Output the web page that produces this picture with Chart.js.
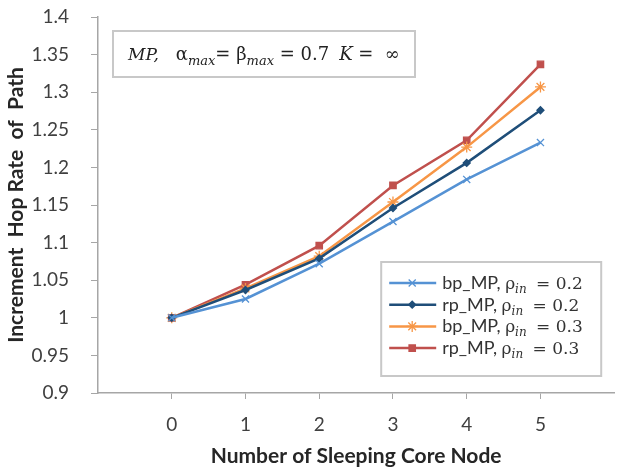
<!DOCTYPE html>
<html>
<head>
<meta charset="utf-8">
<script src="https://cdn.jsdelivr.net/npm/chart.js@4.4.1/dist/chart.umd.min.js"></script>
<style>
    html, body { margin: 0; padding: 0; background: #fff; }
</style>
</head>
<body>
<canvas id="hopChart" width="621" height="473"></canvas>
<script>
// values
const sleepingNodes = [0, 1, 2, 3, 4, 5];
const bpMP02 = [1.0, 1.025, 1.072, 1.128, 1.184, 1.233];
const rpMP02 = [1.0, 1.037, 1.079, 1.146, 1.206, 1.276];
const bpMP03 = [1.0, 1.039, 1.082, 1.154, 1.227, 1.307];
const rpMP03 = [1.0, 1.044, 1.096, 1.176, 1.236, 1.337];
const seriesLabels = ['bp_MP, ρin = 0.2', 'rp_MP, ρin = 0.2', 'bp_MP, ρin = 0.3', 'rp_MP, ρin = 0.3'];
const yTicks = [0.9, 0.95, 1, 1.05, 1.1, 1.15, 1.2, 1.25, 1.3, 1.35, 1.4];

const tickFont = { family: 'Lato, "Open Sans", sans-serif', size: 19 };
const titleFont = { family: 'Lato, "Open Sans", sans-serif', size: 21, weight: 'bold' };

function toPoints(values) {
    return sleepingNodes.map(function (n, i) { return { x: n, y: values[i] }; });
}

function makeSet(label, values, color, style, radius) {
    return {
        label: label,
        data: toPoints(values),
        borderColor: color,
        backgroundColor: color,
        borderWidth: 2.5,
        pointStyle: style,
        pointRadius: radius,
        pointBorderWidth: 1.3,
        pointBorderColor: color,
        pointBackgroundColor: color,
        tension: 0,
    };
}

// draws the parameter box and the legend with subscripts
const boxesPlugin = {
    id: 'boxes',
    afterDraw: function (chart) {
        const ctx = chart.ctx;
        const area = chart.chartArea;
        ctx.save();

        // parameter box
        let bx = area.left + 15, by = area.top + 14;
        ctx.fillStyle = '#fff';
        ctx.strokeStyle = '#c8c8c8';
        ctx.lineWidth = 2;
        ctx.fillRect(bx, by, 302, 46);
        ctx.strokeRect(bx, by, 302, 46);
        ctx.fillStyle = '#222';
        ctx.textBaseline = 'alphabetic';
        let tx = bx + 15, ty = by + 29;
        const parts = [
            ['MP,', 'italic 17px "DejaVu Serif"', 0, 17],
            ['α', '18px "DejaVu Serif"', 0, 0],
            ['max', 'italic 13px "DejaVu Serif"', 5, 0],
            ['= β', '18px "DejaVu Serif"', 0, 0],
            ['max', 'italic 13px "DejaVu Serif"', 5, 0],
            [' = 0.7', '18px "DejaVu Serif"', 0, 10],
            ['K', 'italic 18px "DejaVu Serif"', 0, 0],
            [' =  ∞', '18px "DejaVu Serif"', 0, 0],
        ];
        parts.forEach(function (p) {
            ctx.font = p[1];
            ctx.fillText(p[0], tx, ty + p[2]);
            tx += ctx.measureText(p[0]).width + p[3];
        });

        // legend
        const lx = area.right - 233, ly = 262;
        ctx.fillStyle = '#fff';
        ctx.fillRect(lx, ly, 220, 114);
        ctx.strokeStyle = '#c8c8c8';
        ctx.strokeRect(lx, ly, 220, 114);
        chart.data.datasets.forEach(function (ds, i) {
            const y = ly + 21 + i * 21.7;
            ctx.strokeStyle = ds.borderColor;
            ctx.fillStyle = ds.borderColor;
            ctx.lineWidth = 2.5;
            ctx.beginPath();
            ctx.moveTo(lx + 8, y);
            ctx.lineTo(lx + 55, y);
            ctx.stroke();
            ctx.lineWidth = 1.3;
            Chart.helpers.drawPoint(ctx, {
                pointStyle: ds.pointStyle,
                radius: ds.pointRadius,
                borderWidth: 1.3,
                rotation: 0
            }, lx + 31, y);

            const m = ds.label.match(/^(.*)ρin( = .*)$/);
            let x = lx + 61;
            ctx.fillStyle = '#333';
            ctx.font = '18px Lato, "Open Sans", sans-serif';
            ctx.fillText(m[1], x, y + 6);
            x += ctx.measureText(m[1]).width;
            ctx.font = '17px "DejaVu Serif"';
            ctx.fillText('ρ', x, y + 6);
            x += ctx.measureText('ρ').width;
            ctx.font = 'italic 12px "DejaVu Serif"';
            ctx.fillText('in', x, y + 10);
            x += ctx.measureText('in').width + 4;
            ctx.font = '17px "DejaVu Serif"';
            ctx.fillText(m[2], x, y + 6);
        });
        ctx.restore();
    }
};

const ctx = document.getElementById('hopChart');
new Chart(ctx, {
    type: 'line',
    data: {
        datasets: [
            makeSet(seriesLabels[0], bpMP02, '#5592d4', 'crossRot', 5),
            makeSet(seriesLabels[1], rpMP02, '#1f4e79', 'rectRot', 3.5),
            makeSet(seriesLabels[2], bpMP03, '#f79646', 'star', 5.5),
            makeSet(seriesLabels[3], rpMP03, '#c0504d', 'rect', 4.5),
        ]
    },
    plugins: [boxesPlugin],
    options: {
        responsive: false,
        animation: false,
        layout: { padding: { top: 17, right: 3, left: 0, bottom: 0 } },
        plugins: {
            legend: { display: false },
            tooltip: { enabled: false },
        },
        scales: {
            x: {
                type: 'linear',
                min: -1,
                max: 6,
                afterBuildTicks: function (scale) {
                    scale.ticks = sleepingNodes.map(function (v) { return { value: v }; });
                },
                afterFit: function (scale) {
                    scale.height = 80;
                    scale.paddingLeft = 0;
                    scale.paddingRight = 0;
                },
                grid: { drawOnChartArea: false, drawTicks: true, tickLength: 6, color: '#a6a6a6' },
                border: { display: true, color: '#a6a6a6', width: 1.5 },
                ticks: { font: tickFont, color: '#404040', padding: 14 },
                title: { display: true, text: 'Number of Sleeping Core Node', font: titleFont, color: '#262626', padding: { top: 6 } },
            },
            y: {
                min: 0.9,
                max: 1.4,
                afterBuildTicks: function (scale) {
                    scale.ticks = yTicks.map(function (v) { return { value: v }; });
                },
                afterFit: function (scale) {
                    scale.width = 98;
                    scale.paddingTop = 0;
                    scale.paddingBottom = 0;
                },
                grid: { drawOnChartArea: false, drawTicks: true, tickLength: 7, color: '#a6a6a6' },
                border: { display: true, color: '#a6a6a6', width: 1.5 },
                ticks: {
                    font: tickFont,
                    color: '#404040',
                    padding: 22,
                    callback: function (value) { return String(parseFloat(value.toFixed(2))); }
                },
                title: { display: true, text: 'Increment  Hop Rate  of  Path', font: titleFont, color: '#262626', padding: { bottom: 0 } },
            }
        }
    }
});
</script>
</body>
</html>
